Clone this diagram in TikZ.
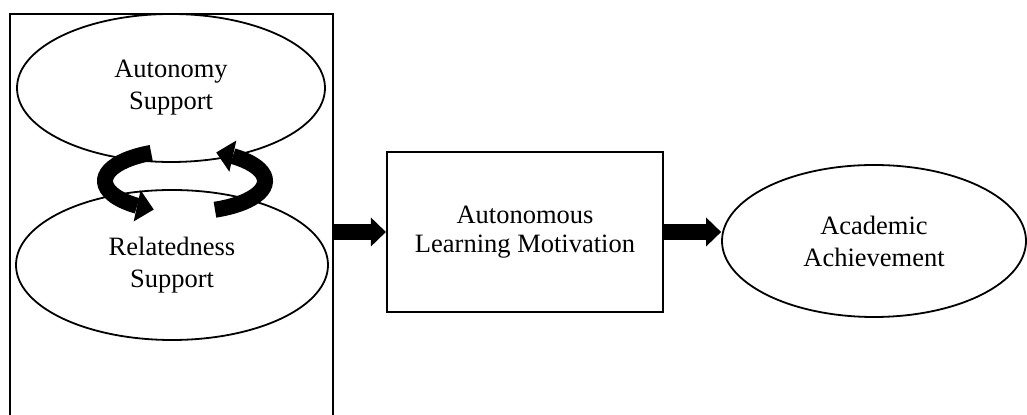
\documentclass[tikz,border=0pt]{standalone}
\usepackage{fontspec}
\setmainfont{Liberation Serif}
\usetikzlibrary{arrows.meta, bending, shapes.geometric, positioning}
\tikzset{
	every node/.style={
		align=center,
		font=\fontsize{13.25}{16}\selectfont,
	},
	oval/.style={draw, ellipse, line width=0.9pt, inner sep=0pt},
	frame/.style={draw, rectangle, line width=1.1pt, inner sep=0pt},
	flow/.style={line width=8pt, -{Triangle[length=7.5pt, width=14.5pt, line width=0pt]}},
	swirl/.style={line width=8pt, -{Triangle[length=8.5pt, width=16pt, line width=0pt]}},
}

\begin{document}
\begin{tikzpicture}[x=0.5pt, y=-0.5pt]
    \useasboundingbox (0,0) rectangle (1027,415);

    \node (grp) [frame, minimum width=161.5pt, minimum height=213pt] at (171.5,227) {};
    \node (as) [oval, minimum width=154pt, minimum height=74pt] at (171,88) {Autonomy\\Support};
    \node (rs) [oval, minimum width=156pt, minimum height=75pt] at (172,265) {Relatedness\\Support};

    \node (alm) [frame, minimum width=138pt, minimum height=80pt, font=\fontsize{13.25}{14.5}\selectfont] at (525,232) {Autonomous\\Learning Motivation};
    \node (aa) [oval, minimum width=152pt, minimum height=76pt] at (874,241) {Academic\\Achievement};

    % the two turning arrows between the supports
    \draw [swirl] ({185+80*cos(115)},{181-31*sin(115)}) arc [start angle=115, end angle=247, x radius=40pt, y radius=15.5pt];
    \draw [swirl] ({185+80*cos(-68)},{181-31*sin(-68)}) arc [start angle=-68, end angle=67, x radius=40pt, y radius=15.5pt];

    \draw [flow] (grp.east |- alm.west) -- (alm.west);
    \draw [flow] (alm.east) -- (alm.east -| aa.west);
\end{tikzpicture}
\end{document}
